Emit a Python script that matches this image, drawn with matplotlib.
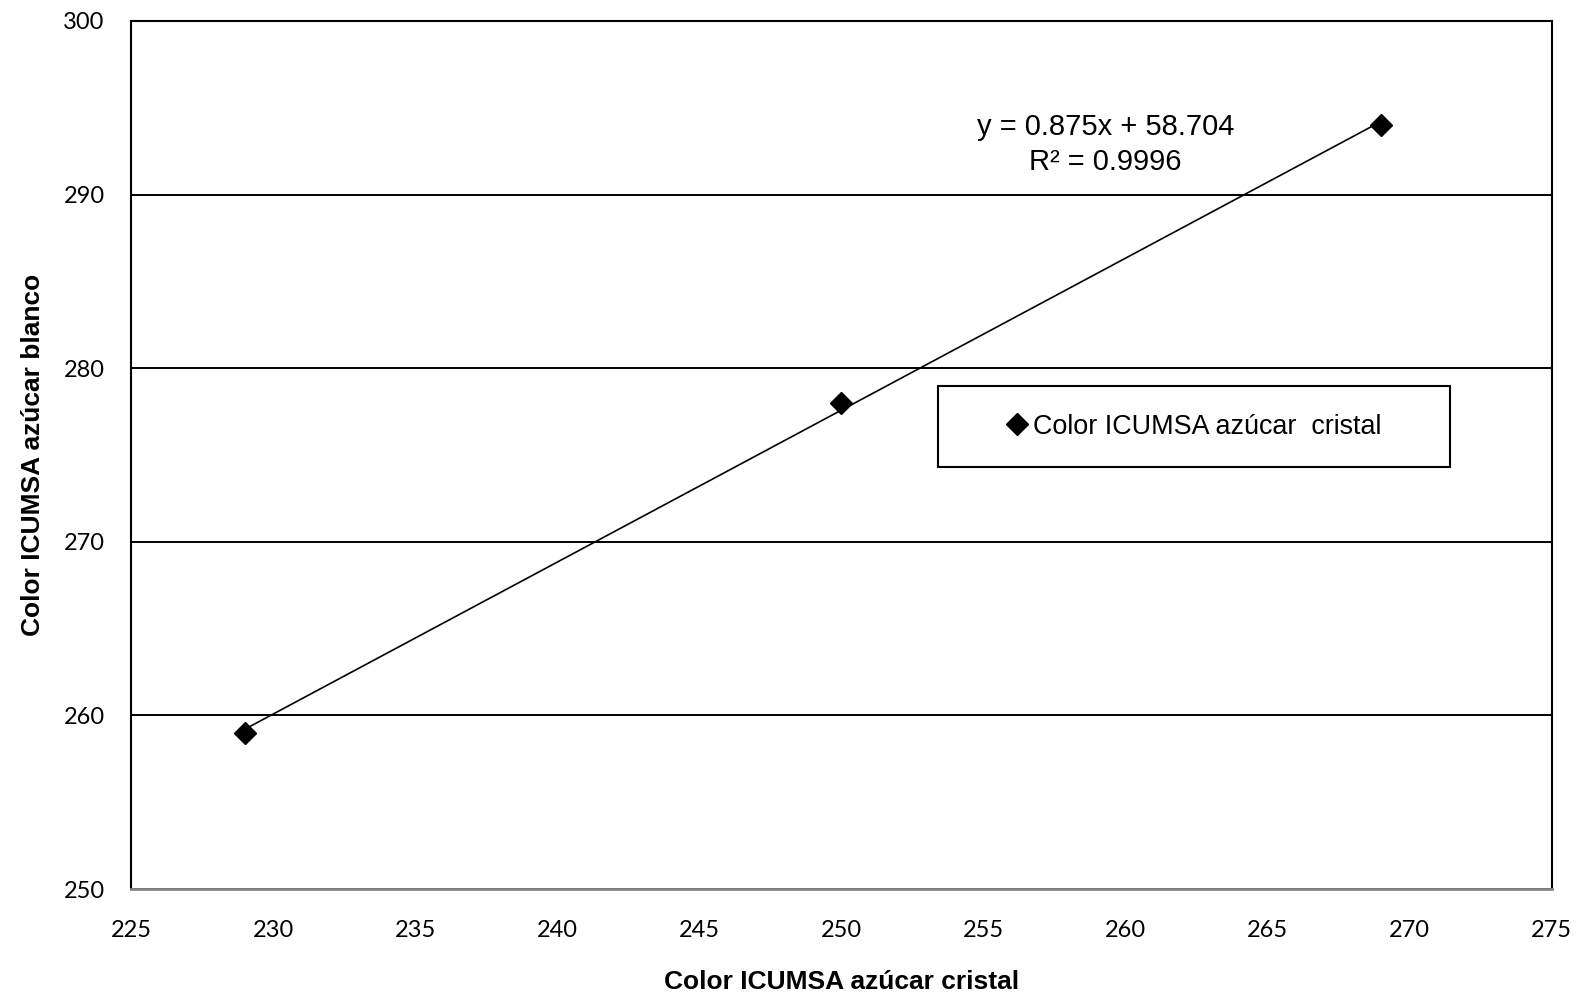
import numpy as np
import matplotlib
matplotlib.use('Agg')
from matplotlib import pyplot as plt
from matplotlib.patches import Rectangle

# data
cristal = [229, 250, 269]
blanco = [259, 278, 294]
x_ticks = [225, 230, 235, 240, 245, 250, 255, 260, 265, 270, 275]
y_ticks = [250, 260, 270, 280, 290, 300]
eq_text = 'y = 0.875x + 58.704\nR² = 0.9996'

fig = plt.figure(figsize=(15.85, 9.98), dpi=100)
ax = fig.add_axes([0.0826, 0.1092, 0.8965, 0.8698])

ax.plot(cristal, blanco, linestyle='none', marker='D', markersize=11,
        color='black', label='Color ICUMSA azúcar  cristal', zorder=4)

# linear trendline
m, b = np.polyfit(cristal, blanco, 1)
xs = np.array([min(cristal), max(cristal)])
ax.plot(xs, m * xs + b, color='black', linewidth=1.2, zorder=3)

ax.set_xlim(225, 275)
ax.set_ylim(250, 300)
ax.set_xticks(x_ticks)
ax.set_yticks(y_ticks)
ax.tick_params(length=0, labelsize=17, pad=22)
ax.tick_params(axis='y', pad=19)
for lab in ax.get_xticklabels() + ax.get_yticklabels():
    lab.set_family('Lato')

ax.yaxis.grid(True, color='black', linewidth=1.4)
ax.set_axisbelow(True)
for s in ['top', 'left', 'right']:
    ax.spines[s].set_linewidth(1.5)
    ax.spines[s].set_color('black')
ax.spines['bottom'].set_color('#888888')
ax.spines['bottom'].set_linewidth(2)

ax.set_xlabel('Color ICUMSA azúcar cristal', fontsize=19, fontweight='bold',
              family='Liberation Sans', labelpad=21)
ax.set_ylabel('Color ICUMSA azúcar blanco', fontsize=19, fontweight='bold',
              family='Liberation Sans', labelpad=13)

ax.text(259.3, 292.9, eq_text, ha='center', va='center', multialignment='center',
        fontsize=21, family='Liberation Sans', linespacing=1.3)

# legend frame and legend
ax.add_patch(Rectangle((0.568, 0.486), 0.360, 0.093, transform=ax.transAxes,
                       facecolor='white', edgecolor='black', linewidth=1.5, zorder=5))
leg = ax.legend(loc='center', bbox_to_anchor=(0.749, 0.5325), frameon=False,
                prop={'family': 'Liberation Sans', 'size': 19.4},
                handlelength=0.6, handletextpad=0.3, borderpad=0)
leg.set_zorder(6)

plt.savefig('out.png', dpi=100)
plt.close()
